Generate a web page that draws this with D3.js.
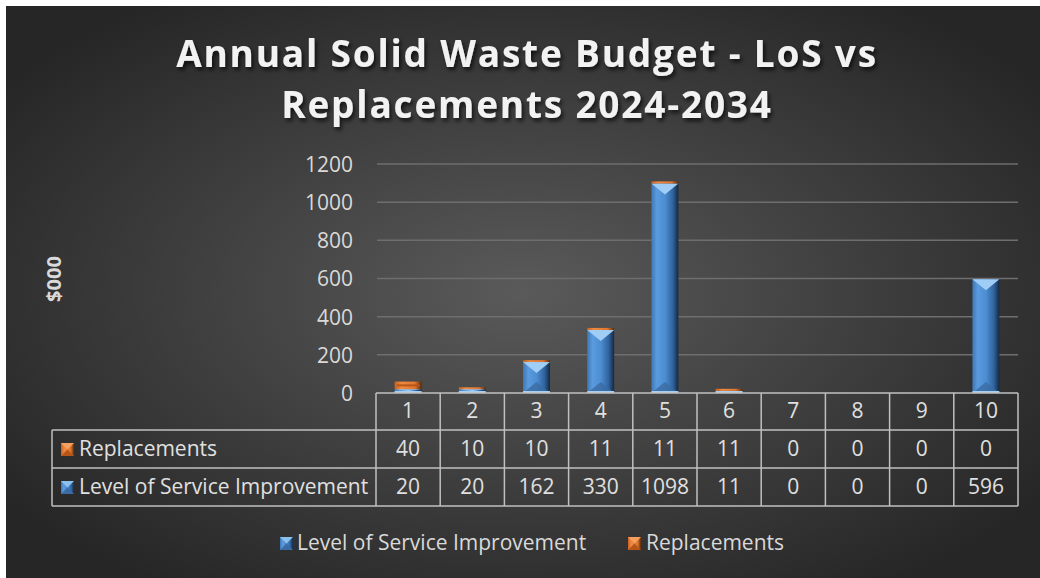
<!DOCTYPE html>
<html>
<head>
<meta charset="utf-8">
<script src="https://cdn.jsdelivr.net/npm/d3@7"></script>
<style>
  body { margin: 0; background: #fff; }
  svg { display: block; font-family: "Open Sans", sans-serif; }
</style>
</head>
<body>
<script>
var categories = ["1", "2", "3", "4", "5", "6", "7", "8", "9", "10"]
var losValues = [20, 20, 162, 330, 1098, 11, 0, 0, 0, 596]
var replacementValues = [40, 10, 10, 11, 11, 11, 0, 0, 0, 0]
var yTicks = [0, 200, 400, 600, 800, 1000, 1200]
var seriesNames = ["Level of Service Improvement", "Replacements"]

var width = 1040, height = 578
var svg = d3.select("body").append("svg")
    .attr("width", width)
    .attr("height", height)

var defs = svg.append("defs")

var bg = defs.append("radialGradient").attr("id", "bg")
    .attr("cx", "50%").attr("cy", "50%").attr("r", "62%")
bg.append("stop").attr("offset", "0%").attr("stop-color", "#5a5a5a")
bg.append("stop").attr("offset", "100%").attr("stop-color", "#262626")

var blueGrad = defs.append("linearGradient").attr("id", "blueGrad")
    .attr("x1", "0%").attr("x2", "100%").attr("y1", "0%").attr("y2", "0%")
blueGrad.append("stop").attr("offset", "0%").attr("stop-color", "#3f78b4")
blueGrad.append("stop").attr("offset", "20%").attr("stop-color", "#5a9be0")
blueGrad.append("stop").attr("offset", "50%").attr("stop-color", "#4d8ed2")
blueGrad.append("stop").attr("offset", "80%").attr("stop-color", "#2f629c")
blueGrad.append("stop").attr("offset", "100%").attr("stop-color", "#15283f")

var orangeGrad = defs.append("linearGradient").attr("id", "orangeGrad")
    .attr("x1", "0%").attr("x2", "100%").attr("y1", "0%").attr("y2", "0%")
orangeGrad.append("stop").attr("offset", "0%").attr("stop-color", "#c8621f")
orangeGrad.append("stop").attr("offset", "25%").attr("stop-color", "#f08a40")
orangeGrad.append("stop").attr("offset", "75%").attr("stop-color", "#e07630")
orangeGrad.append("stop").attr("offset", "100%").attr("stop-color", "#5a2a0c")

var shadow = defs.append("filter").attr("id", "shadow")
    .attr("x", "-10%").attr("y", "-30%").attr("width", "120%").attr("height", "160%")
shadow.append("feDropShadow").attr("dx", 2).attr("dy", 3)
    .attr("stdDeviation", 2).attr("flood-color", "#000").attr("flood-opacity", 0.7)

// background
svg.append("rect")
    .attr("x", 6).attr("y", 6)
    .attr("width", width - 6).attr("height", height - 6)
    .attr("fill", "url(#bg)")

// title
var title = svg.append("text")
    .attr("text-anchor", "middle")
    .attr("fill", "#f2f2f2")
    .attr("font-weight", "bold")
    .attr("font-size", 37)
    .attr("letter-spacing", 1.8)
    .attr("filter", "url(#shadow)")
title.append("tspan").attr("x", 527).attr("y", 67).text("Annual Solid Waste Budget - LoS vs")
title.append("tspan").attr("x", 527).attr("y", 118).text("Replacements 2024-2034")

var x = d3.scaleBand().domain(categories).range([376, 1018]).padding(0)
var y = d3.scaleLinear().domain([0, 1200]).range([393, 164])

// gridlines
svg.append("g").selectAll("line")
    .data(yTicks.slice(1))
    .enter().append("line")
    .attr("x1", 377).attr("x2", 1018)
    .attr("y1", function(d) { return y(d) }).attr("y2", function(d) { return y(d) })
    .attr("stroke", "#6e6e6e").attr("stroke-width", 1.5)

// y axis
var yAxis = svg.append("g")
    .attr("transform", "translate(353,0)")
    .call(d3.axisLeft(y).tickValues(yTicks).tickFormat(d3.format("d")).tickSize(0).tickPadding(0))
yAxis.select(".domain").remove()
yAxis.selectAll("text")
    .attr("fill", "#d9d9d9")
    .attr("font-size", 21)
    .attr("font-family", "Open Sans, sans-serif")
    .attr("dy", "0.35em")

svg.append("text")
    .attr("transform", "translate(61,279) rotate(-90)")
    .attr("text-anchor", "middle")
    .attr("fill", "#d9d9d9")
    .attr("font-weight", "bold")
    .attr("font-size", 20)
    .text("$000")

// bars
var barW = x.bandwidth() * 0.42
function drawBlue(g, x0, yTop, yBot) {
    var h = yBot - yTop
    if (h <= 0) return
    g.append("rect").attr("x", x0).attr("y", yTop).attr("width", barW).attr("height", h)
        .attr("fill", "url(#blueGrad)")
    var d = Math.min(11, h / 2)
    g.append("path")
        .attr("d", "M" + x0 + "," + yTop + "L" + (x0 + barW) + "," + yTop + "L" + (x0 + barW / 2) + "," + (yTop + d) + "Z")
        .attr("fill", "#9fcdf5")
    g.append("path")
        .attr("d", "M" + x0 + "," + yBot + "L" + (x0 + barW) + "," + yBot + "L" + (x0 + barW / 2) + "," + (yBot - d) + "Z")
        .attr("fill", "#3a6ba3").attr("opacity", 0.8)
    g.append("rect").attr("x", x0).attr("y", yBot - Math.min(2, h)).attr("width", barW).attr("height", Math.min(2, h))
        .attr("fill", "#a9cdee")
}
function drawOrange(g, x0, yTop, yBot) {
    var h = yBot - yTop
    if (h <= 0) return
    g.append("rect").attr("x", x0).attr("y", yTop).attr("width", barW).attr("height", h)
        .attr("fill", "url(#orangeGrad)")
    if (h > 4) {
        g.append("rect").attr("x", x0 + 2).attr("y", yTop + h / 2 - 1).attr("width", barW - 4).attr("height", 2)
            .attr("fill", "#b8561a")
    }
}

var barLayer = svg.append("g")
categories.forEach(function(c, i) {
    var x0 = x(c) + (x.bandwidth() - barW) / 2
    var g = barLayer.append("g")
    drawBlue(g, x0, y(losValues[i]), y(0))
    drawOrange(g, x0, y(losValues[i] + replacementValues[i]), y(losValues[i]))
})

// data table
var lineColor = "#c0c0c0"
var table = svg.append("g")
    .attr("stroke", lineColor).attr("stroke-width", 1.5).attr("fill", "none")
table.append("line").attr("x1", 376).attr("x2", 1018).attr("y1", 393).attr("y2", 393)
;[430, 468, 506].forEach(function(yy) {
    table.append("line").attr("x1", 52).attr("x2", 1018).attr("y1", yy).attr("y2", yy)
})
table.append("line").attr("x1", 52).attr("x2", 52).attr("y1", 430).attr("y2", 506)
categories.concat(["end"]).forEach(function(c, i) {
    var xx = i < categories.length ? x(c) : x.range()[1]
    table.append("line").attr("x1", xx).attr("x2", xx).attr("y1", 393).attr("y2", 506)
})

var tableText = svg.append("g")
    .attr("fill", "#e0e0e0").attr("font-size", 21).attr("text-anchor", "middle")
categories.forEach(function(c, i) {
    var cx = x(c) + x.bandwidth() / 2
    tableText.append("text").attr("x", cx).attr("y", 411).attr("dy", "0.35em").text(c)
    tableText.append("text").attr("x", cx).attr("y", 449).attr("dy", "0.35em").text(replacementValues[i])
    tableText.append("text").attr("x", cx).attr("y", 487).attr("dy", "0.35em").text(losValues[i])
})

function marker(g, mx, my, kind) {
    var s = 13
    var grad = kind === "blue" ? "url(#blueGrad)" : "url(#orangeGrad)"
    g.append("rect").attr("x", mx).attr("y", my).attr("width", s).attr("height", s).attr("fill", grad)
    g.append("path")
        .attr("d", "M" + mx + "," + my + "L" + (mx + s) + "," + my + "L" + (mx + s / 2) + "," + (my + s / 2) + "Z")
        .attr("fill", kind === "blue" ? "#8cc0ee" : "#f5a060")
    g.append("path")
        .attr("d", "M" + mx + "," + (my + s) + "L" + (mx + s) + "," + (my + s) + "L" + (mx + s / 2) + "," + (my + s / 2) + "Z")
        .attr("fill", kind === "blue" ? "#3a6ba3" : "#b8561a")
}

var rowLabels = svg.append("g").attr("fill", "#e0e0e0").attr("font-size", 21)
marker(rowLabels, 61, 443, "orange")
rowLabels.append("text").attr("x", 79).attr("y", 449).attr("dy", "0.35em").text(seriesNames[1])
marker(rowLabels, 61, 481, "blue")
rowLabels.append("text").attr("x", 79).attr("y", 487).attr("dy", "0.35em").text(seriesNames[0])

// legend
var legend = svg.append("g").attr("fill", "#d9d9d9").attr("font-size", 21)
marker(legend, 280, 537, "blue")
legend.append("text").attr("x", 297).attr("y", 543).attr("dy", "0.35em").text(seriesNames[0])
marker(legend, 628, 537, "orange")
legend.append("text").attr("x", 646).attr("y", 543).attr("dy", "0.35em").text(seriesNames[1])
</script>
</body>
</html>
